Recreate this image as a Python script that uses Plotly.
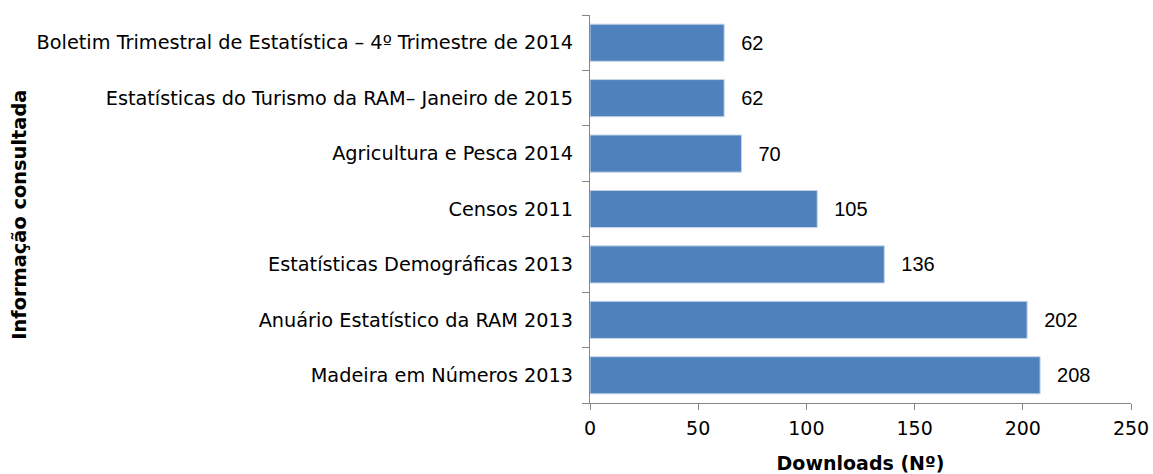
import plotly.graph_objects as go

categories = [
    "Madeira em Números 2013",
    "Anuário Estatístico da RAM 2013",
    "Estatísticas Demográficas 2013",
    "Censos 2011",
    "Agricultura e Pesca 2014",
    "Estatísticas do Turismo da RAM– Janeiro de 2015",
    "Boletim Trimestral de Estatística – 4º Trimestre de 2014",
]
downloads = [208, 202, 136, 105, 70, 62, 62]

FONT = "DejaVu Sans"
LABEL_FONT = "Liberation Sans"
AXIS_GREY = "#868686"

fig = go.Figure(
    go.Bar(
        x=downloads,
        y=categories,
        orientation="h",
        marker=dict(color="#4f81bd", line=dict(width=1, color="#c6d5ea")),
        width=0.67,
        # en space + thin space to push the value away from the bar end
        text=["\u2002\u2009" + str(v) for v in downloads],
        textposition="outside",
        textfont=dict(family=LABEL_FONT, size=20, color="#000000"),
        cliponaxis=False,
    )
)

fig.update_layout(
    width=1153,
    height=474,
    margin=dict(l=590, r=22, t=15, b=71),
    paper_bgcolor="white",
    plot_bgcolor="white",
    showlegend=False,
    font=dict(family=FONT, size=19, color="#000000"),
    xaxis=dict(
        range=[0, 250],
        tickvals=[0, 50, 100, 150, 200, 250],
        showgrid=False,
        zeroline=False,
        showline=True,
        linecolor=AXIS_GREY,
        linewidth=1,
        ticks="outside",
        ticklen=6,
        tickcolor=AXIS_GREY,
        tickfont=dict(family=FONT, size=19),
        ticklabelstandoff=2,
        title=dict(text="<b>Downloads (Nº)</b>", font=dict(family=FONT, size=19), standoff=24),
        automargin=False,
    ),
    yaxis=dict(
        showgrid=False,
        showline=True,
        linecolor=AXIS_GREY,
        linewidth=1,
        ticks="outside",
        tickson="boundaries",
        ticklen=7,
        tickcolor=AXIS_GREY,
        tickfont=dict(family=FONT, size=19.3),
        ticklabelstandoff=12,
        automargin=False,
    ),
    annotations=[
        dict(
            text="<b>Informação consultada</b>",
            xref="paper",
            yref="paper",
            x=(20 - 590) / 541,
            y=0.485,
            textangle=-90,
            showarrow=False,
            font=dict(family=FONT, size=19.4),
            xanchor="center",
            yanchor="middle",
        )
    ],
)

# drop the default body margin so the 1153x474 figure fills the window exactly
fig.write_html(
    "out.html",
    config={"displayModeBar": False},
    post_script="document.body.style.margin='0';",
)
